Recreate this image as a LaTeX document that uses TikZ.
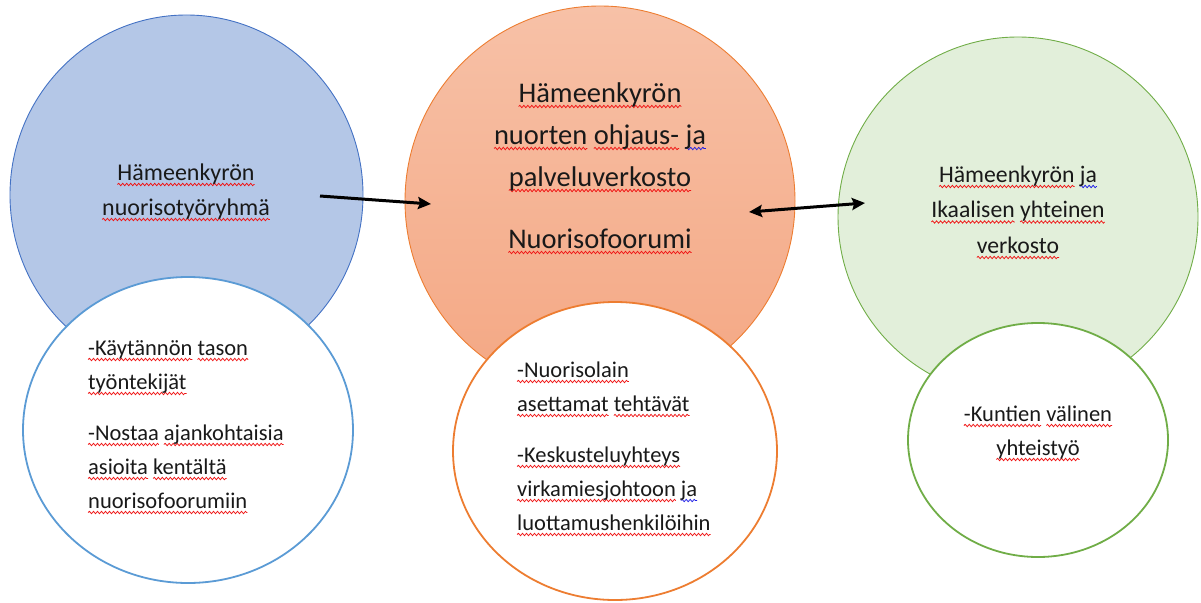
\documentclass[tikz,border=0pt]{standalone}
\usepackage{fontspec}
\setmainfont{Carlito}
\usetikzlibrary{shapes.geometric,arrows.meta,decorations.pathmorphing}
\definecolor{bluefill}{RGB}{180,199,231}
\definecolor{blueline}{RGB}{68,114,196}
\definecolor{bluew}{RGB}{91,155,213}
\definecolor{orangeline}{RGB}{237,125,49}
\definecolor{orangetop}{RGB}{247,193,167}
\definecolor{orangebot}{RGB}{244,167,131}
\definecolor{greenfill}{RGB}{226,239,218}
\definecolor{greenline}{RGB}{112,173,71}
\definecolor{squigred}{RGB}{240,20,20}
\definecolor{squigblue}{RGB}{30,30,230}
\newsavebox\sqbox
\newcommand\sqw[2]{\sbox\sqbox{#2}\leavevmode\rlap{\tikz[baseline=0pt,x=1pt,y=1pt]{\useasboundingbox (0pt,0pt) rectangle (\the\wd\sqbox,0pt);\draw[#1,line width=0.75pt,decorate,decoration={snake,amplitude=1.2pt,segment length=4pt}] (0pt,-4.5pt) -- (\the\wd\sqbox,-4.5pt);}}\usebox\sqbox}
\newcommand\rw[1]{\sqw{squigred}{#1}}
\newcommand\bwv[1]{\sqw{squigblue}{#1}}
\tikzset{
  bigc/.style={ellipse, inner sep=0pt, outer sep=0pt, line width=0.9pt},
  whitec/.style={ellipse, inner sep=0pt, outer sep=0pt, fill=white, line width=1.8pt},
  bigtxt/.style={align=center, inner sep=0pt, text=black!90},
  smalltxt/.style={inner sep=0pt, text=black!90, font=\fontsize{22.5}{34}\selectfont},
  arr/.style={line width=3pt, -{Stealth[length=13pt,width=12pt,inset=2pt]}},
  arrtwo/.style={line width=3pt, {Stealth[length=13pt,width=12pt,inset=2pt]}-{Stealth[length=13pt,width=12pt,inset=2pt]}}
}
\begin{document}
\begin{tikzpicture}[x=1pt,y=-1pt]
\useasboundingbox (0,0) rectangle (1201,602);
% big circles
\node[bigc, fill=bluefill, draw=blueline, minimum width=353, minimum height=360] (blue) at (186.5,195) {};
\node[bigc, top color=orangetop, bottom color=orangebot, draw=orangeline, minimum width=390, minimum height=390] (orange) at (600,201) {};
\node[bigc, fill=greenfill, draw=greenline, minimum width=360, minimum height=360] (green) at (1018,217) {};
% white circles
\node[whitec, draw=bluew, minimum width=330, minimum height=306] (bwhite) at (188,430) {};
\node[whitec, draw=orangeline, minimum width=324, minimum height=298] (owhite) at (615,451) {};
\node[whitec, draw=greenline, minimum width=260, minimum height=234] (gwhite) at (1038,440) {};
% big texts (base anchor = baseline of last line)
\node[bigtxt, anchor=base, font=\fontsize{24}{35}\selectfont] (btxt) at (186,215)
  {\rw{Hämeenkyrön}\\\rw{nuorisotyöryhmä}};
\node[bigtxt, anchor=base, font=\fontsize{28.5}{42}\selectfont] (otxt) at (600,248)
  {\rw{Hämeenkyrön}\\\rw{nuorten} \rw{ohjaus-} \bwv{ja}\\\rw{palveluverkosto}\\[20pt]\rw{Nuorisofoorumi}};
\node[bigtxt, anchor=base, font=\fontsize{23.7}{35.5}\selectfont] (gtxt) at (1018,253)
  {\rw{Hämeenkyrön} \bwv{ja}\\\rw{Ikaalisen} \rw{yhteinen}\\\rw{verkosto}};
% small texts
\node[smalltxt, align=left, anchor=base west] (bstxt) at (88,508)
  {\rw{-Käytännön} \rw{tason}\\\rw{työntekijät}\\[17pt]\rw{-Nostaa} \rw{ajankohtaisia}\\\rw{asioita} \rw{kentältä}\\\rw{nuorisofoorumiin}};
\node[smalltxt, align=left, anchor=base west] (ostxt) at (517,530)
  {\rw{-Nuorisolain}\\\rw{asettamat} \rw{tehtävät}\\[17pt]\rw{-Keskusteluyhteys}\\\rw{virkamiesjohtoon} \bwv{ja}\\\rw{luottamushenkilöihin}};
\node[smalltxt, align=center, anchor=base] (gstxt) at (1038,455)
  {\rw{-Kuntien} \rw{välinen}\\\rw{yhteistyö}};
% arrows
\coordinate (a1s) at (320,196);
\coordinate (a1e) at (431,204);
\coordinate (a2s) at (749,212);
\coordinate (a2e) at (865,203);
\draw[arr] (a1s) -- (a1e);
\draw[arrtwo] (a2s) -- (a2e);
\end{tikzpicture}
\end{document}
